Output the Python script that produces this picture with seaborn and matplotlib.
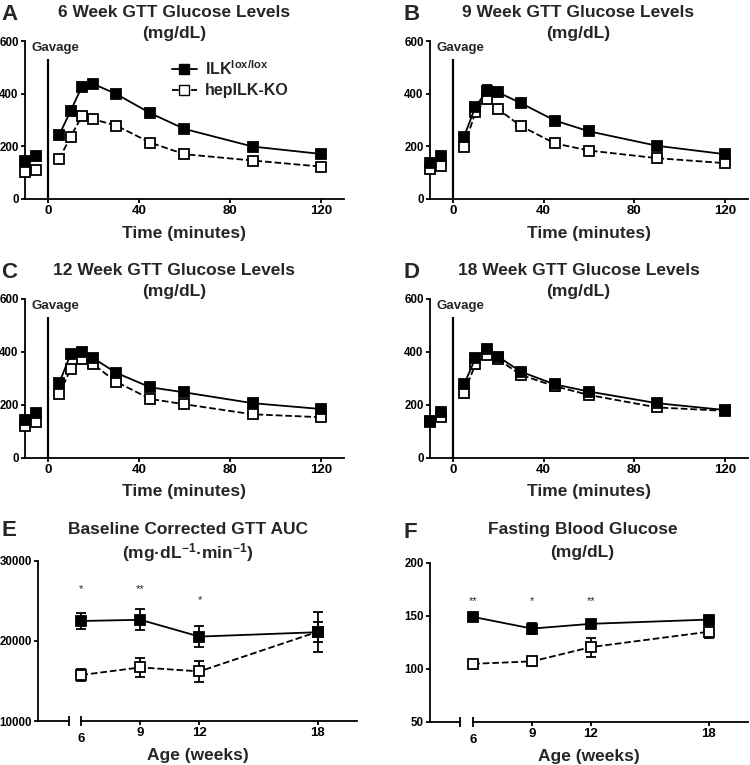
import numpy as np
import pandas as pd
import matplotlib
matplotlib.use("Agg")
import matplotlib.pyplot as plt
import matplotlib.transforms as mtransforms
from matplotlib.lines import Line2D
import seaborn as sns

# ---- data ----
time_min = [-10, -5, 5, 10, 15, 20, 30, 45, 60, 90, 120]

ilk_6wk = [145, 165, 243, 334, 427, 437, 399, 326, 266, 199, 171]
ko_6wk = [101, 110, 152, 236, 315, 303, 279, 214, 170, 146, 123]
ilk_6wk_sem = [8, 6, 8, 10, 8, 8, 8, 8, 8, 6, 6]
ko_6wk_sem = [6, 6, 8, 10, 14, 8, 8, 8, 6, 6, 6]

ilk_9wk = [136, 165, 237, 350, 410, 405, 364, 298, 257, 202, 170]
ko_9wk = [114, 127, 199, 329, 380, 341, 277, 211, 184, 155, 136]
ilk_9wk_sem = [6, 6, 14, 10, 22, 12, 10, 10, 8, 6, 6]
ko_9wk_sem = [6, 6, 12, 10, 14, 8, 10, 8, 6, 6, 6]

ilk_12wk = [142, 170, 281, 391, 400, 376, 321, 266, 247, 206, 184]
ko_12wk = [121, 134, 240, 334, 373, 353, 287, 222, 202, 164, 153]
ilk_12wk_sem = [6, 6, 8, 8, 8, 8, 10, 8, 8, 6, 6]
ko_12wk_sem = [6, 6, 8, 12, 12, 10, 12, 10, 8, 6, 6]

ilk_18wk = [140, 174, 277, 376, 411, 382, 325, 277, 250, 206, 180]
ko_18wk = [134, 155, 246, 353, 388, 372, 313, 270, 237, 190, 177]
ilk_18wk_sem = [8, 8, 10, 10, 10, 10, 14, 16, 12, 10, 8]
ko_18wk_sem = [8, 8, 10, 16, 10, 12, 16, 16, 10, 10, 8]

age_weeks = [6, 9, 12, 18]
auc_ilk = [22500, 22650, 20550, 21100]
auc_ilk_sem = [1000, 1300, 1300, 2500]
auc_ko = [15750, 16700, 16200, 21150]
auc_ko_sem = [780, 1200, 1350, 1250]
auc_stars = ["*", "**", "*"]
auc_star_y = [26500, 26500, 25100]

fbg_ilk = [149, 138, 142.5, 146.5]
fbg_ilk_sem = [2, 5, 2.5, 3]
fbg_ko = [104.7, 107, 120.5, 135]
fbg_ko_sem = [2.5, 4, 9, 6]
fbg_stars = ["**", "*", "**"]
fbg_star_y = [164, 164, 164]

gavage_time = 0
gavage_top = 530

ilk_label = r"ILK$^{\mathbf{lox/lox}}$"
ko_label = "hepILK-KO"

# ---- style ----
sns.set_style("ticks")
plt.rcParams["font.family"] = ["Liberation Sans", "DejaVu Sans"]
plt.rcParams["font.weight"] = "bold"
plt.rcParams["mathtext.fontset"] = "custom"
plt.rcParams["mathtext.rm"] = "Liberation Sans:bold"
plt.rcParams["mathtext.bf"] = "Liberation Sans:bold"
plt.rcParams["mathtext.default"] = "bf"

LW = 1.3
MS = 6.5

fig = plt.figure(figsize=(7.5, 7.65), dpi=100)


def style_axes(ax):
    sns.despine(ax=ax)
    for s in ["left", "bottom"]:
        ax.spines[s].set_linewidth(LW)
        ax.spines[s].set_color("black")
    ax.tick_params(length=3, width=LW, pad=1.5, colors="black")
    ax.tick_params(axis="x", labelsize=9.5)
    ax.tick_params(axis="y", labelsize=8.3)
    for lab in ax.get_xticklabels() + ax.get_yticklabels():
        lab.set_fontweight("bold")


def add_titles(ax, line1, line2, y1=1.18, y2=1.05, xc=0.467):
    ax.text(xc, y1, line1, transform=ax.transAxes, ha="center", va="center",
            fontsize=12.5, fontweight="bold")
    ax.text(xc, y2, line2, transform=ax.transAxes, ha="center", va="center",
            fontsize=12.5, fontweight="bold")


def draw_series(ax, x, y, sem, face, ls, units=None):
    df = pd.DataFrame({"x": x, "y": y, "u": units if units is not None else 0})
    ax.errorbar(x, y, yerr=sem, fmt="none", ecolor="black", elinewidth=LW,
                capsize=3.5, capthick=LW, zorder=2, clip_on=False)
    sns.lineplot(data=df, x="x", y="y", units="u", estimator=None, ax=ax,
                 color="black", linestyle=ls, linewidth=LW, marker="s",
                 markersize=MS, markerfacecolor=face, markeredgecolor="black",
                 markeredgewidth=1.3, legend=False, zorder=3, clip_on=False)


def draw_gtt(ax, ilk, ko, ilk_sem, ko_sem, title):
    phase = ["pre" if t < gavage_time else "post" for t in time_min]
    draw_series(ax, time_min, ko, ko_sem, "white", "--", phase)
    draw_series(ax, time_min, ilk, ilk_sem, "black", "-", phase)
    ax.vlines(gavage_time, 0, gavage_top, color="black", linewidth=1.6)
    ax.text(-7, 575, "Gavage", ha="left", va="center", fontsize=9.5,
            fontweight="bold")
    ax.set_xlim(-10, 130)
    ax.set_ylim(0, 600)
    ax.set_xticks([0, 40, 80, 120])
    ax.set_yticks([0, 200, 400, 600])
    ax.set_xlabel("Time (minutes)", fontsize=12.5, fontweight="bold", labelpad=6)
    ax.set_ylabel("")
    style_axes(ax)
    add_titles(ax, title, "(mg/dL)")


def draw_age(ax, ilk, ilk_sem, ko, ko_sem, stars, star_y, ylim, yticks,
             line1, line2, y1, y2, xc):
    draw_series(ax, age_weeks, ko, ko_sem, "white", "--")
    draw_series(ax, age_weeks, ilk, ilk_sem, "black", "-")
    for xv, s, yv in zip(age_weeks, stars, star_y):
        ax.text(xv, yv, s, ha="center", va="center", fontsize=8,
                fontweight="normal")
    xmin = 3.8
    ax.set_xlim(xmin, 20)
    ax.set_ylim(*ylim)
    ax.set_yticks(yticks)
    ax.set_xticks(age_weeks)
    ax.set_xticklabels([str(a) for a in age_weeks])
    ax.set_xlabel("Age (weeks)", fontsize=12.5, fontweight="bold", labelpad=2.5)
    ax.set_ylabel("")
    style_axes(ax)
    # broken x axis before the first age
    ax.spines["bottom"].set_bounds(6, 20)
    tr = ax.get_xaxis_transform()
    ax.plot([xmin, 5.35], [0, 0], color="black", lw=LW, transform=tr,
            clip_on=False)
    ax.plot([5.35, 6], [0, 0], color="black", ls="none", marker="|",
            markersize=7, markeredgewidth=LW, transform=tr, clip_on=False)
    ticks = ax.xaxis.get_major_ticks()
    ticks[0].tick1line.set_visible(False)
    off = mtransforms.ScaledTranslation(0, -4 / 72, fig.dpi_scale_trans)
    ticks[0].label1.set_transform(ticks[0].label1.get_transform() + off)
    add_titles(ax, line1, line2, y1, y2, xc)


axA = fig.add_axes([0.0333, 0.7399, 0.4253, 0.2065])
axB = fig.add_axes([0.5733, 0.7399, 0.424, 0.2065])
axC = fig.add_axes([0.0333, 0.4017, 0.4253, 0.2075])
axD = fig.add_axes([0.5733, 0.4017, 0.424, 0.2075])
axE = fig.add_axes([0.0507, 0.0575, 0.4253, 0.2092])
axF = fig.add_axes([0.5733, 0.0566, 0.424, 0.2075])

draw_gtt(axA, ilk_6wk, ko_6wk, ilk_6wk_sem, ko_6wk_sem, "6 Week GTT Glucose Levels")
draw_gtt(axB, ilk_9wk, ko_9wk, ilk_9wk_sem, ko_9wk_sem, "9 Week GTT Glucose Levels")
draw_gtt(axC, ilk_12wk, ko_12wk, ilk_12wk_sem, ko_12wk_sem, "12 Week GTT Glucose Levels")
draw_gtt(axD, ilk_18wk, ko_18wk, ilk_18wk_sem, ko_18wk_sem, "18 Week GTT Glucose Levels")

draw_age(axE, auc_ilk, auc_ilk_sem, auc_ko, auc_ko_sem, auc_stars, auc_star_y,
         (10000, 30000), [10000, 20000, 30000], "Baseline Corrected GTT AUC",
         "(mg·dL$^{-1}$·min$^{-1}$)", 1.194, 1.05, 0.469)
draw_age(axF, fbg_ilk, fbg_ilk_sem, fbg_ko, fbg_ko_sem, fbg_stars, fbg_star_y,
         (50, 200), [50, 100, 150, 200], "Fasting Blood Glucose", "(mg/dL)",
         1.21, 1.063, 0.48)

handles = [
    Line2D([], [], color="black", lw=LW, ls="-", marker="s", markersize=MS,
           markerfacecolor="black", markeredgecolor="black"),
    Line2D([], [], color="black", lw=LW, ls="--", marker="s", markersize=MS,
           markerfacecolor="white", markeredgecolor="black"),
]
axA.legend(handles, [ilk_label, ko_label], loc="upper left",
           bbox_to_anchor=(0.46, 0.885), frameon=False, borderpad=0,
           borderaxespad=0, handlelength=1.6, handletextpad=0.5,
           labelspacing=0.35, prop={"size": 11.5, "weight": "bold"})

for letter, x, y in [("A", 0.002, 0.995), ("B", 0.538, 0.995),
                     ("C", 0.002, 0.658), ("D", 0.538, 0.658),
                     ("E", 0.002, 0.320), ("F", 0.538, 0.318)]:
    fig.text(x, y, letter, fontsize=16, fontweight="bold", ha="left", va="top")

fig.savefig("out.png", dpi=100)
